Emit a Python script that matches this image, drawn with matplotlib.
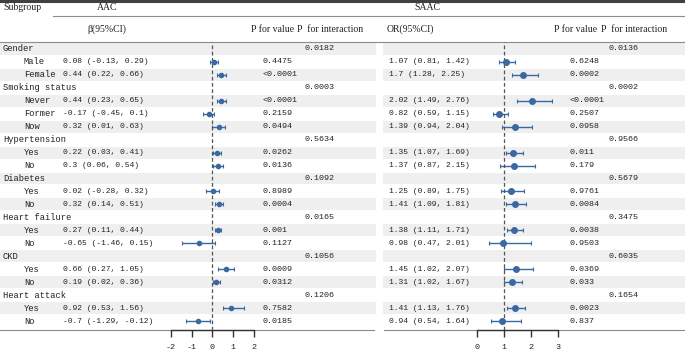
import numpy as np
import matplotlib
matplotlib.use('Agg')
import matplotlib.pyplot as plt
from matplotlib.patches import Rectangle

plt.rcParams['axes.unicode_minus'] = False
#------------------------------------------------------------------------------------
# data
labels = ['Gender', 'Male', 'Female', 'Smoking status', 'Never', 'Former', 'Now',
          'Hypertension', 'Yes', 'No', 'Diabetes', 'Yes', 'No', 'Heart failure', 'Yes', 'No',
          'CKD', 'Yes', 'No', 'Heart attack', 'Yes', 'No']
is_group = [1, 0, 0, 1, 0, 0, 0, 1, 0, 0, 1, 0, 0, 1, 0, 0, 1, 0, 0, 1, 0, 0]

# AAC (beta), one entry per sub row
aac_est = [0.08, 0.44, 0.44, -0.17, 0.32, 0.22, 0.3, 0.02, 0.32, 0.27, -0.65, 0.66, 0.19, 0.92, -0.7]
aac_lo = [-0.13, 0.22, 0.23, -0.45, 0.01, 0.03, 0.06, -0.28, 0.14, 0.11, -1.46, 0.27, 0.02, 0.53, -1.29]
aac_hi = [0.29, 0.66, 0.65, 0.1, 0.63, 0.41, 0.54, 0.32, 0.51, 0.44, 0.15, 1.05, 0.36, 1.56, -0.12]
aac_p = ['0.4475', '<0.0001', '<0.0001', '0.2159', '0.0494', '0.0262', '0.0136', '0.8989', '0.0004',
         '0.001', '0.1127', '0.0009', '0.0312', '0.7582', '0.0185']
aac_pint = ['0.0182', '0.0003', '0.5634', '0.1092', '0.0165', '0.1056', '0.1206']

# SAAC (OR)
saac_est = [1.07, 1.7, 2.02, 0.82, 1.39, 1.35, 1.37, 1.25, 1.41, 1.38, 0.98, 1.45, 1.31, 1.41, 0.94]
saac_lo = [0.81, 1.28, 1.49, 0.59, 0.94, 1.07, 0.87, 0.89, 1.09, 1.11, 0.47, 1.02, 1.02, 1.13, 0.54]
saac_hi = [1.42, 2.25, 2.76, 1.15, 2.04, 1.69, 2.15, 1.75, 1.81, 1.71, 2.01, 2.07, 1.67, 1.76, 1.64]
saac_p = ['0.6248', '0.0002', '<0.0001', '0.2507', '0.0958', '0.011', '0.179', '0.9761', '0.0084',
          '0.0038', '0.9503', '0.0369', '0.033', '0.0023', '0.837']
saac_pint = ['0.0136', '0.0002', '0.9566', '0.5679', '0.3475', '0.6035', '0.1654']

aac_ticks = [-2, -1, 0, 1, 2]
saac_ticks = [0, 1, 2, 3]
#------------------------------------------------------------------------------------
W, H = 685, 352
y0, dy = 48.8, 12.97          # row layout in pixels
top_px, bot_px = 42, 330
mono = 'Liberation Mono'
serif = 'Liberation Serif'
txt_c = '#222222'
shade = '#efefef'
line_c = '#8c8c8c'
blue = '#3a68a0'

fig = plt.figure(figsize=(W / 100, H / 100), dpi=100)
bg = fig.add_axes([0, 0, 1, 1])
bg.set_xlim(0, W); bg.set_ylim(H, 0); bg.axis('off')

n = len(labels)
rows = np.arange(n)
row_y = y0 + dy * rows
sub_rows = rows[np.array(is_group) == 0]
grp_rows = rows[np.array(is_group) == 1]

# shaded bands
for i in rows[::2]:
  bg.add_patch(Rectangle((0, row_y[i] - dy / 2 + 0.5), 376, dy - 1, color=shade, lw=0, zorder=0))
  bg.add_patch(Rectangle((383, row_y[i] - dy / 2 + 0.5), W - 383, dy - 1, color=shade, lw=0, zorder=0))

# rules
bg.plot([0, W], [1.2, 1.2], color='#404040', lw=2.2)
bg.plot([53, W], [15.5, 15.5], color=line_c, lw=0.8)
bg.plot([0, W], [top_px, top_px], color=line_c, lw=0.8)
bg.plot([0, 374], [bot_px, bot_px], color=line_c, lw=0.8)
bg.plot([384, W], [bot_px, bot_px], color=line_c, lw=0.8)

# header text
hk = dict(family=serif, fontsize=7, color='#222222', va='center')
bg.text(3, 8, 'Subgroup', ha='left', **hk)
bg.text(107, 8, 'AAC', ha='center', **hk)
bg.text(427, 8, 'SAAC', ha='center', **hk)
bg.text(107, 29, 'β(95%CI)', ha='center', **hk)
bg.text(251, 29, 'P for value', ha='left', **hk)
bg.text(297, 29, 'P  for interaction', ha='left', **hk)
bg.text(410, 29, 'OR(95%CI)', ha='center', **hk)
bg.text(554, 29, 'P for value', ha='left', **hk)
bg.text(601, 29, 'P  for interaction', ha='left', **hk)

# table body
lk = dict(family=mono, fontsize=6.3, color=txt_c, va='center')
ek = dict(family=mono, fontsize=5.8, color=txt_c, va='center')
pk = dict(family=mono, fontsize=6.0, color=txt_c, va='center')
for i in rows:
  bg.text(3 if is_group[i] else 24, row_y[i], labels[i], ha='left', **lk)
for k, i in enumerate(sub_rows):
  bg.text(63, row_y[i], f'{aac_est[k]} ({aac_lo[k]}, {aac_hi[k]})', ha='left', **ek)
  bg.text(263, row_y[i], aac_p[k], ha='left', **pk)
  bg.text(389, row_y[i], f'{saac_est[k]} ({saac_lo[k]}, {saac_hi[k]})', ha='left', **ek)
  bg.text(570, row_y[i], saac_p[k], ha='left', **pk)
for k, i in enumerate(grp_rows):
  bg.text(305, row_y[i], aac_pint[k], ha='left', **pk)
  bg.text(609, row_y[i], saac_pint[k], ha='left', **pk)

#------------------------------------------------------------------------------------
def forest(x_left, x_right, xlim, ticks, ref, est, lo, hi, ms):
  ax = fig.add_axes([x_left / W, 1 - bot_px / H, (x_right - x_left) / W, (bot_px - top_px) / H])
  ax.patch.set_visible(False)
  est = np.array(est); lo = np.array(lo); hi = np.array(hi)
  ax.errorbar(est, sub_rows, xerr=[est - lo, hi - est], fmt='o', color=blue, ms=ms,
              elinewidth=1.0, capsize=1.5, capthick=0.8, clip_on=False)
  ax.axvline(ref, color='#555555', lw=0.9, ls=(0, (3, 2)))
  ax.set_xlim(*xlim)
  ax.set_ylim((bot_px - y0) / dy, (top_px - y0) / dy)
  ax.set_xticks(ticks)
  ax.set_xticklabels([str(t) for t in ticks], family=mono, fontsize=6, color=txt_c)
  ax.set_yticks([])
  for s in ['left', 'right', 'top']:
    ax.spines[s].set_visible(False)
  ax.spines['bottom'].set_color('#333333')
  ax.spines['bottom'].set_linewidth(1.0)
  ax.tick_params(axis='x', direction='out', length=5, width=1.0, color='#333333', pad=5)
  return ax

forest(171, 253.5, (-2, 2), aac_ticks, 0, aac_est, aac_lo, aac_hi, 3)
forest(476.7, 558.3, (0, 3), saac_ticks, 1, saac_est, saac_lo, saac_hi, 4)

fig.savefig('out.png', dpi=100)
